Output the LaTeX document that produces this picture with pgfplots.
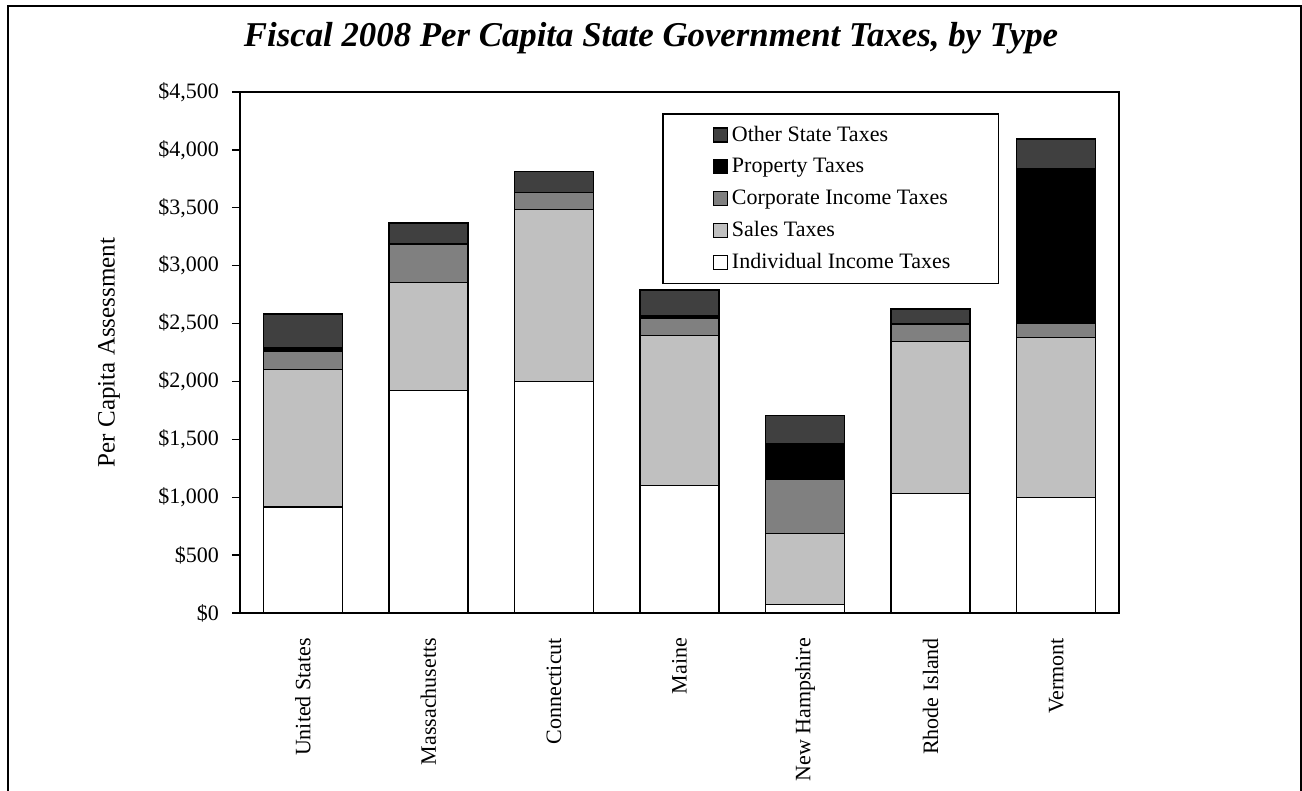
\documentclass[border=0pt]{standalone}
\usepackage{pgfplots}
\pgfplotsset{compat=1.18}
\usepackage{fontspec}
\setmainfont{Liberation Serif}
\definecolor{salesc}{HTML}{C0C0C0}
\definecolor{corpc}{HTML}{808080}
\definecolor{otherc}{HTML}{404040}
\pgfplotsset{sq/.style={legend image code/.code={\path (-3pt,0pt); \draw[##1, line width=0.6pt] (0pt,-3.5pt) rectangle (7pt,3.5pt);}}}
\begin{document}
\begin{tikzpicture}
\path[use as bounding box] (0pt,0pt) rectangle (651pt,395.5pt);
\draw[line width=1pt] (4pt,0pt) -- (4pt,392.5pt) -- (650.5pt,392.5pt) -- (650.5pt,0pt);
\node[font=\bfseries\itshape\fontsize{17.4}{20}\selectfont] at (325.5pt,376.5pt) {Fiscal 2008 Per Capita State Government Taxes, by Type};
\begin{axis}[
  at={(120pt,89pt)}, anchor=south west,
  scale only axis, width=439.5pt, height=260.5pt,
  ybar stacked, bar width=39.5pt,
  xmin=-0.5, xmax=6.5, ymin=0, ymax=4500,
  xtick={0,1,2,3,4,5,6},
  xticklabels={United States, Massachusetts, Connecticut, Maine, New Hampshire, Rhode Island, Vermont},
  xticklabel style={rotate=90, anchor=east, font=\fontsize{11}{13}\selectfont},
  xticklabel shift=5pt,
  x tick style={draw=none},
  ytick={0,500,1000,1500,2000,2500,3000,3500,4000,4500},
  yticklabels={\$0,\$500,{\$1,000},{\$1,500},{\$2,000},{\$2,500},{\$3,000},{\$3,500},{\$4,000},{\$4,500}},
  yticklabel style={font=\fontsize{11}{13}\selectfont},
  yticklabel shift=3pt,
  ytick pos=left, tick align=outside, major tick length=4pt,
  y tick style={line width=0.7pt, black},
  axis line style={line width=0.8pt},
  ylabel={Per Capita Assessment},
  ylabel style={at={(axis description cs:-0.149,0.5)}, anchor=center, font=\fontsize{12.5}{15}\selectfont},
  legend style={at={(axis description cs:0.480,0.9597)}, anchor=north west, draw=black, line width=0.8pt,
    font=\fontsize{11}{13}\selectfont, row sep=3pt, inner xsep=22pt, inner ysep=4pt},
  reverse legend,
  legend cell align=left,
]
\addplot[fill=white, draw=black, line width=0.65pt, sq] coordinates {(0,916) (1,1920) (2,2001) (3,1100) (4,75) (5,1034) (6,999)};
\addplot[fill=salesc, draw=black, line width=0.65pt, sq] coordinates {(0,1185) (1,936) (2,1486) (3,1295) (4,613) (5,1310) (6,1379)};
\addplot[fill=corpc, draw=black, line width=0.65pt, sq] coordinates {(0,162) (1,331) (2,143) (3,150) (4,469) (5,152) (6,124)};
\addplot[fill=black, draw=black, line width=0.65pt, sq] coordinates {(0,32) (1,0) (2,0) (3,20) (4,309) (5,0) (6,1339)};
\addplot[fill=otherc, draw=black, line width=0.65pt, sq] coordinates {(0,287) (1,181) (2,182) (3,225) (4,238) (5,130) (6,253)};
\legend{Individual Income Taxes, Sales Taxes, Corporate Income Taxes, Property Taxes, Other State Taxes}
\end{axis}
\end{tikzpicture}
\end{document}
